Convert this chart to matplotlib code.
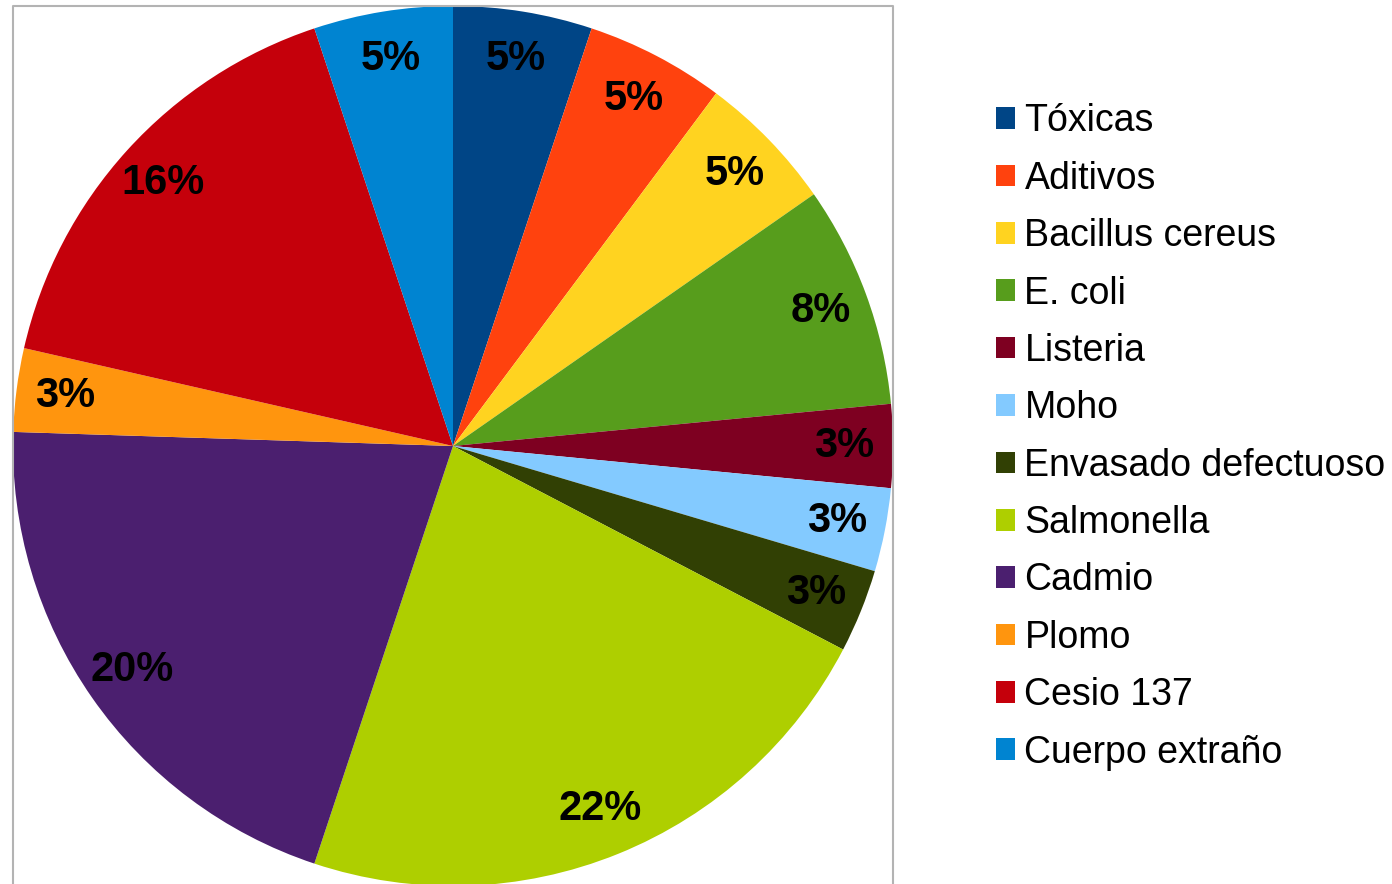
import matplotlib.pyplot as plt
from matplotlib.patches import Patch
from matplotlib.lines import Line2D

plt.rcParams['font.family'] = ['Liberation Sans', 'DejaVu Sans']

# Data (counts)
categories = ['Tóxicas', 'Aditivos', 'Bacillus cereus', 'E. coli', 'Listeria', 'Moho',
              'Envasado defectuoso', 'Salmonella', 'Cadmio', 'Plomo', 'Cesio 137',
              'Cuerpo extraño']
counts = [5, 5, 5, 8, 3, 3, 3, 22, 20, 3, 16, 5]
colors = ['#004586', '#ff420e', '#ffd320', '#579d1c', '#7e0021', '#83caff',
          '#314004', '#aecf00', '#4b1f6f', '#ff950e', '#c5000b', '#0084d1']

W, H = 1392, 884
fig = plt.figure(figsize=(W / 100, H / 100), dpi=100)

# pie area in pixels: left 13, top 6, size 880
left, top, size = 13, 6, 880
ax = fig.add_axes([left / W, 1 - (top + size) / H, size / W, size / H])
wedges, texts, autotexts = ax.pie(counts, colors=colors, startangle=90, counterclock=False,
                                  autopct='%.0f%%', pctdistance=0.89,
                                  wedgeprops=dict(linewidth=0),
                                  textprops=dict(fontsize=30, fontweight='bold', color='black'))
ax.set_xlim(-1, 1)
ax.set_ylim(-1, 1)
ax.set_aspect('equal')

# gray frame around plot area (bottom edge runs off the image)
xs = [left / W, left / W, (left + size) / W, (left + size) / W]
ys = [-0.01, 1 - top / H, 1 - top / H, -0.01]
fig.add_artist(Line2D(xs, ys, color='#b3b3b3', linewidth=1.5, transform=fig.transFigure))

handles = [Patch(facecolor=c, edgecolor='none') for c in colors]
fig.legend(handles, categories, loc='center left', bbox_to_anchor=(996 / W, 1 - 437 / H),
           frameon=False, fontsize=27, handlelength=0.51, handleheight=0.51,
           handletextpad=0.25, labelspacing=0.57, borderpad=0, borderaxespad=0)

fig.savefig('out.png', dpi=100)
